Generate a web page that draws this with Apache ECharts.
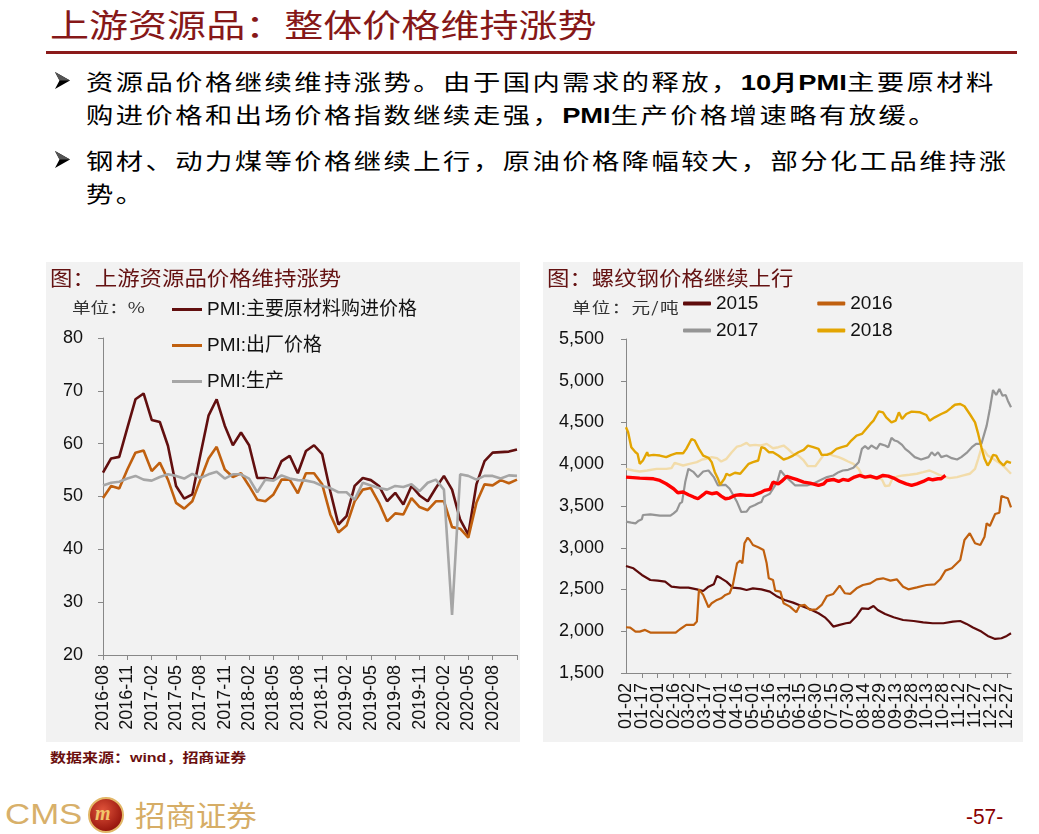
<!DOCTYPE html>
<html>
<head>
<meta charset="utf-8">
<script src="https://cdn.jsdelivr.net/npm/echarts/dist/echarts.min.js"></script>
<style>
  body { margin:0; background:#fff; }
  #page { position:relative; width:1039px; height:834px; overflow:hidden; background:#fff;
          font-family:"Noto Sans CJK SC","Liberation Sans",sans-serif; }
  .abs { position:absolute; white-space:nowrap; transform-origin:0 50%; }
  .bl { font-size:22px; letter-spacing:2px; color:#000; transform:scaleX(1.24); line-height:30px; }
  .bl b { font-family:"Liberation Sans",Arial,sans-serif; letter-spacing:0; }
  .arrow { position:absolute; width:15px; height:17px; }
  .ptitle { font-size:20px; color:#641212; transform:scaleX(1.12); line-height:24px; }
  .unit { font-size:15px; color:#333; transform:scaleX(1.24); line-height:18px; }
  .panel { position:absolute; top:262px; height:480px; background:#f2f2f2; }
</style>
</head>
<body>
<div id="page">
  <div class="abs" style="left:50px;top:4px;font-size:32px;line-height:38px;color:#861818;transform:scaleX(1.22);">上游资源品：整体价格维持涨势</div>
  <div style="position:absolute;left:46px;top:51px;width:971px;height:3px;background:#8b1a1a;"></div>

  <svg class="arrow" style="left:55px;top:72px;" viewBox="0 0 15 17"><polygon points="0,0 15,8.5 0,17 4.5,8.5" fill="#000"/><polygon points="0,0 15,8.5 4.5,8.5" fill="#555"/></svg>
  <div class="abs bl" style="left:86px;top:65px;">资源品价格继续维持涨势。由于国内需求的释放，<b>10月PMI</b>主要原材料</div>
  <div class="abs bl" style="left:86px;top:98px;">购进价格和出场价格指数继续走强，<b>PMI</b>生产价格增速略有放缓。</div>
  <svg class="arrow" style="left:55px;top:151px;" viewBox="0 0 15 17"><polygon points="0,0 15,8.5 0,17 4.5,8.5" fill="#000"/><polygon points="0,0 15,8.5 4.5,8.5" fill="#555"/></svg>
  <div class="abs bl" style="left:86px;top:144px;">钢材、动力煤等价格继续上行，原油价格降幅较大，部分化工品维持涨</div>
  <div class="abs bl" style="left:86px;top:177px;">势。</div>

  <div id="c1" class="panel" style="left:46px;width:474px;"></div>
  <div id="c2" class="panel" style="left:543px;width:480px;"></div>

  <div class="abs ptitle" style="left:50px;top:266px;">图：上游资源品价格维持涨势</div>
  <div class="abs unit" style="left:72px;top:298px;">单位：%</div>
  <div class="abs ptitle" style="left:547px;top:266px;">图：螺纹钢价格继续上行</div>
  <div class="abs unit" style="left:572px;top:298px;letter-spacing:1px;">单位：元/吨</div>

  <div class="abs" style="left:50px;top:749px;font-size:13px;line-height:16px;font-weight:bold;color:#6b0f0f;transform:scaleX(1.23);">数据来源：<span style="font-family:'Liberation Sans',Arial;">wind</span>，招商证券</div>

  <div class="abs" style="left:5px;top:798px;font-family:'Liberation Sans',Arial;font-size:29px;line-height:32px;color:#d8b06a;transform:scaleX(1.2);">CMS</div>
  <div style="position:absolute;left:88px;top:797px;width:32px;height:32px;border-radius:50%;background:radial-gradient(circle at 40% 35%,#e0533a,#9c1a10 70%,#6e0e08);border:2px solid #e2b767;"></div>
  <div class="abs" style="left:95px;top:801px;font-family:'Liberation Serif',serif;font-weight:bold;font-style:italic;font-size:20px;line-height:24px;color:#f1c56a;">m</div>
  <div class="abs" style="left:135px;top:798px;font-size:29px;line-height:32px;color:#d6ad66;transform:scaleX(1.05);">招商证券</div>
  <div class="abs" style="left:966px;top:804px;font-family:'Liberation Sans',Arial;font-size:22px;line-height:26px;color:#8b0000;transform:scaleX(0.95);">-57-</div>
</div>

<script>
// ---------- 左图：PMI 价格指数（月度，%） ----------
var pmiMonths = ['2016-08','2016-09','2016-10','2016-11','2016-12','2017-01','2017-02','2017-03','2017-04','2017-05',
  '2017-06','2017-07','2017-08','2017-09','2017-10','2017-11','2017-12','2018-01','2018-02','2018-03',
  '2018-04','2018-05','2018-06','2018-07','2018-08','2018-09','2018-10','2018-11','2018-12','2019-01',
  '2019-02','2019-03','2019-04','2019-05','2019-06','2019-07','2019-08','2019-09','2019-10','2019-11',
  '2019-12','2020-01','2020-02','2020-03','2020-04','2020-05','2020-06','2020-07','2020-08','2020-09',
  '2020-10','2020-11'];
var pmiPurchase = [54.5,57.2,57.5,63.0,68.4,69.5,64.5,64.1,59.6,52.0,
  49.6,50.4,57.9,65.3,68.4,63.4,59.7,62.1,59.7,53.5,
  53.5,53.2,56.7,57.7,54.4,58.6,59.7,58.0,51.0,44.7,
  46.3,52.0,53.5,53.1,52.0,49.1,50.7,48.5,52.0,50.2,
  49.1,51.6,53.9,51.3,45.6,42.8,52.3,56.7,58.3,58.4,
  58.5,58.9];
var pmiExFactory = [49.7,52.0,51.5,55.1,58.3,58.7,54.8,56.4,53.2,48.8,
  47.7,49.1,53.2,57.2,59.4,55.1,53.7,54.4,52.0,49.4,
  49.1,50.4,53.2,53.2,50.6,54.4,54.4,52.3,46.6,43.2,
  44.5,49.1,51.3,51.6,48.8,45.3,46.8,46.6,49.7,48.0,
  47.4,49.1,49.1,44.2,43.9,42.2,48.8,52.3,52.1,53.1,
  52.5,53.2];
var pmiOutput = [52.1,52.6,52.8,53.4,53.9,53.2,53.0,53.7,54.2,53.9,
  53.4,54.3,53.5,54.2,54.7,53.4,54.2,54.2,53.4,50.8,
  53.2,53.0,54.0,53.4,53.1,53.0,52.7,52.0,51.6,50.8,
  50.8,49.4,52.6,52.1,51.6,51.3,52.0,51.8,52.3,51.0,
  52.6,53.2,51.3,27.6,54.2,53.9,53.2,53.9,53.9,53.4,
  54.0,53.9];

// ---------- 右图：螺纹钢价格（元/吨），[距01-02天数, 价格] ----------
var rebarTicks = ['01-02','01-17','02-01','02-16','03-02','03-17','04-01','04-16','05-01','05-16','05-31','06-15',
  '06-30','07-15','07-30','08-14','08-29','09-13','09-28','10-13','10-28','11-12','11-27','12-12','12-27'];
var rebar2015 = [[0,2782],[7,2754],[15,2674],[23,2614],[30,2606],[37,2594],[43,2534],[51,2522],[59,2522],[67,2502],
  [73,2482],[78,2534],[83,2562],[86,2662],[90,2634],[95,2594],[101,2522],[108,2514],[114,2494],[120,2514],
  [128,2502],[136,2474],[142,2423],[150,2375],[158,2343],[166,2303],[174,2263],[182,2215],[188,2167],[192,2116],
  [196,2056],[202,2076],[208,2096],[212,2104],[218,2183],[223,2275],[229,2267],[234,2303],[238,2255],[245,2207],
  [253,2167],[262,2135],[272,2123],[281,2107],[290,2096],[300,2096],[309,2116],[316,2123],[322,2088],[328,2044],
  [336,1996],[342,1944],[349,1908],[355,1916],[360,1944],[364,1976]];
var rebar2016 = [[0,2048],[4,2044],[9,1996],[13,1996],[18,2016],[23,1984],[32,1984],[42,1984],[47,1984],[51,2024],
  [57,2076],[64,2076],[67,2116],[68,2135],[69,2502],[70,2514],[73,2435],[78,2287],[81,2335],[86,2375],
  [90,2395],[94,2435],[98,2455],[101,2554],[105,2814],[108,2846],[110,2814],[112,3053],[115,3121],[117,3093],
  [120,3033],[125,3005],[130,2973],[133,2814],[135,2634],[139,2614],[141,2487],[146,2475],[149,2335],[155,2295],
  [161,2227],[164,2303],[169,2315],[174,2255],[180,2263],[185,2315],[190,2423],[196,2447],[202,2546],[207,2455],
  [212,2447],[218,2514],[224,2554],[231,2574],[237,2622],[243,2634],[250,2606],[256,2622],[262,2534],[267,2502],
  [275,2526],[284,2554],[292,2562],[297,2622],[302,2726],[308,2754],[316,2854],[320,3093],[325,3173],[330,3053],
  [335,3033],[339,3133],[341,3293],[344,3261],[349,3404],[353,3420],[355,3620],[358,3604],[361,3592],[364,3484]];
var rebar2017 = [[0,3312],[5,3300],[9,3292],[12,3324],[15,3340],[16,3392],[23,3400],[32,3384],[42,3384],[45,3412],
  [48,3444],[51,3532],[53,3547],[56,3786],[59,3945],[64,3905],[68,3846],[73,3913],[78,3925],[83,3846],
  [87,3746],[94,3754],[98,3707],[105,3547],[109,3428],[114,3432],[117,3484],[122,3512],[125,3532],[128,3547],
  [130,3607],[133,3627],[136,3647],[139,3707],[143,3786],[146,3925],[150,3866],[155,3806],[160,3746],[164,3746],
  [171,3746],[177,3766],[183,3806],[190,3846],[196,3866],[201,3905],[205,3925],[210,3933],[215,3957],[220,4025],
  [223,4184],[226,4216],[229,4184],[232,4224],[237,4184],[240,4244],[245,4224],[248,4204],[251,4315],[254,4284],
  [257,4272],[261,4232],[264,4184],[268,4144],[273,4085],[279,4057],[286,4085],[289,4144],[292,4104],[295,4144],
  [298,4085],[303,4104],[308,4073],[313,4057],[317,4085],[322,4136],[327,4204],[331,4244],[336,4244],[341,4463],
  [344,4662],[347,4889],[350,4829],[353,4900],[356,4821],[359,4829],[361,4761],[364,4682]];
var rebar2018 = [[0,4443],[2,4383],[5,4204],[9,4144],[11,4124],[13,4005],[16,4045],[20,4144],[21,4104],[26,4112],
  [32,4104],[38,4085],[43,4112],[48,4132],[54,4132],[57,4184],[62,4303],[65,4284],[69,4184],[73,4104],
  [78,4077],[81,4025],[84,3905],[87,3826],[89,3754],[93,3826],[95,3886],[98,3866],[103,3898],[108,3886],
  [112,3945],[116,4005],[120,4025],[125,4045],[128,4204],[131,4192],[135,4144],[139,4144],[144,4104],[149,4057],
  [153,4073],[158,4104],[163,4144],[168,4172],[172,4224],[177,4204],[182,4184],[185,4112],[190,4112],[194,4132],
  [199,4184],[204,4204],[209,4224],[213,4284],[218,4343],[223,4363],[227,4423],[231,4483],[234,4522],[237,4590],
  [239,4634],[243,4622],[246,4562],[251,4502],[255,4522],[258,4622],[261,4542],[265,4602],[270,4630],[278,4622],
  [284,4590],[287,4522],[292,4562],[298,4602],[303,4630],[308,4682],[311,4713],[316,4721],[320,4694],[325,4602],
  [330,4502],[333,4363],[336,4204],[339,4065],[342,3985],[344,4025],[347,4112],[350,4104],[353,4033],[357,3985],
  [360,4033],[364,4017]];
var rebar2019 = [[0,3945],[7,3925],[13,3913],[20,3925],[29,3945],[38,3945],[43,3953],[46,4017],[49,4005],[54,3985],
  [60,4005],[67,4025],[72,4057],[76,4065],[81,4085],[86,4073],[90,4033],[95,4065],[100,4144],[105,4212],
  [109,4224],[114,4256],[117,4224],[122,4232],[127,4224],[133,4244],[139,4192],[144,4204],[149,4224],[153,4184],
  [158,4124],[163,4104],[168,4045],[172,3977],[179,3977],[183,4045],[187,4112],[191,4124],[196,4104],[201,4085],
  [205,4065],[210,4033],[215,4005],[220,3945],[224,3846],[231,3834],[237,3834],[242,3818],[245,3738],[249,3746],
  [252,3834],[257,3854],[262,3866],[268,3874],[275,3886],[281,3905],[287,3925],[292,3898],[297,3866],[302,3846],
  [306,3834],[313,3846],[319,3866],[325,3886],[330,3945],[333,4065],[336,4192],[339,4164],[342,4104],[347,4065],
  [352,4025],[357,3977],[361,3925],[364,3886]];
var rebar2020 = [[0,3846],[13,3834],[26,3826],[32,3806],[38,3766],[45,3707],[49,3659],[54,3667],[59,3635],[64,3607],
  [68,3587],[73,3635],[76,3667],[81,3647],[86,3659],[90,3619],[94,3587],[98,3595],[103,3627],[108,3635],
  [114,3627],[120,3627],[127,3659],[131,3687],[136,3699],[139,3786],[144,3766],[147,3794],[152,3854],[157,3834],
  [161,3818],[168,3786],[174,3774],[182,3746],[187,3766],[190,3806],[196,3818],[201,3794],[205,3818],[210,3806],
  [216,3846],[221,3866],[226,3846],[231,3858],[237,3834],[243,3866],[248,3858],[253,3834],[259,3794],[265,3766],
  [270,3746],[275,3766],[281,3794],[286,3826],[290,3814],[295,3826],[298,3826],[302,3866]];

var numFont = '"Liberation Sans", Arial, sans-serif';
var cjkFont = '"Liberation Sans", "Noto Sans CJK SC", sans-serif';
var axisGray = '#888888';

//左图
var chart1 = echarts.init(document.getElementById('c1'));
function pmiLine(name, data, color) {
  return { name: name, type: 'line', data: data, symbol: 'none', smooth: false,
    lineStyle: { color: color, width: 2.6 }, itemStyle: { color: color } };
}
chart1.setOption({
  animation: false,
  backgroundColor: '#f2f2f2',
  grid: { left: 57, right: 3, top: 76, bottom: 87, containLabel: false, outerBoundsMode: 'none' },
  legend: {
    orient: 'vertical', left: 121, top: 33, itemGap: 17,
    icon: 'rect', itemWidth: 30, itemHeight: 3,
    textStyle: { fontSize: 19, color: '#111', fontFamily: cjkFont },
    data: ['PMI:主要原材料购进价格', 'PMI:出厂价格', 'PMI:生产']
  },
  xAxis: {
    type: 'category', data: pmiMonths, boundaryGap: false,
    axisLine: { lineStyle: { color: axisGray, width: 1 } },
    axisTick: { show: true, interval: 2, length: 5, lineStyle: { color: axisGray } },
    axisLabel: { interval: 2, rotate: 90, margin: 10, fontSize: 18, color: '#111', fontFamily: numFont,
      formatter: function (v, i) { return i === pmiMonths.length - 1 ? '' : v; } },
    splitLine: { show: false }
  },
  yAxis: {
    type: 'value', min: 20, max: 80, interval: 10,
    axisLine: { show: true, lineStyle: { color: axisGray, width: 1 } },
    axisTick: { show: true, inside: false, length: 5, lineStyle: { color: axisGray } },
    axisLabel: { margin: 20, fontSize: 18, color: '#111', fontFamily: numFont },
    splitLine: { show: false }
  },
  series: [
    pmiLine('PMI:主要原材料购进价格', pmiPurchase, '#620f0f'),
    pmiLine('PMI:出厂价格', pmiExFactory, '#c0600f'),
    pmiLine('PMI:生产', pmiOutput, '#a6a6a6')
  ]
});

//右图
var chart2 = echarts.init(document.getElementById('c2'));
function rebarLine(name, data, color, width) {
  return { name: name, type: 'line', data: data, symbol: 'none', smooth: false, xAxisIndex: 0,
    lineStyle: { color: color, width: width }, itemStyle: { color: color } };
}
function dayLabel(v) {
  var k = Math.round(v / 15);
  return (Math.abs(v - k * 15) < 0.01 && rebarTicks[k]) ? rebarTicks[k] : '';
}
var legendBase = { left: 135, itemGap: 59, icon: 'roundRect', itemWidth: 28, itemHeight: 4,
  textStyle: { fontSize: 19, color: '#111', fontFamily: numFont } };
var dayLabelStyle = { rotate: 90, margin: 10, fontSize: 18, color: '#111', fontFamily: numFont, hideOverlap: false };
chart2.setOption({
  animation: false,
  backgroundColor: '#f2f2f2',
  grid: { left: 83, right: 12, top: 77, bottom: 69, containLabel: false, outerBoundsMode: 'none' },
  legend: [
    Object.assign({}, legendBase, { top: 27, data: ['2015', '2016'] }),
    Object.assign({}, legendBase, { top: 54, data: ['2017', '2018'] })
  ],
  xAxis: [{
    type: 'value', min: 0, max: 364, interval: 15, position: 'bottom',
    axisLine: { show: true, onZero: false, lineStyle: { color: axisGray, width: 1 } },
    axisTick: { show: true, length: 5, lineStyle: { color: axisGray } },
    axisLabel: Object.assign({}, dayLabelStyle, { showMinLabel: false, showMaxLabel: false, formatter: dayLabel }),
    splitLine: { show: false }
  }, {
    // 仅用于显示首个日期标签（避免与相邻标签的重叠隐藏）
    type: 'value', min: 0, max: 364, interval: 15, position: 'bottom', offset: 0,
    axisLine: { show: false }, axisTick: { show: false }, splitLine: { show: false },
    axisLabel: Object.assign({}, dayLabelStyle, { showMinLabel: true, showMaxLabel: false,
      formatter: function (v) { return v === 0 ? rebarTicks[0] : ''; } })
  }],
  yAxis: {
    type: 'value', min: 1500, max: 5500, interval: 500,
    axisLine: { show: true, lineStyle: { color: axisGray, width: 1 } },
    axisTick: { show: true, length: 5, lineStyle: { color: axisGray } },
    axisLabel: { margin: 22, fontSize: 18, color: '#111', fontFamily: numFont,
      formatter: function (v) { return v.toLocaleString('en-US'); } },
    splitLine: { show: false }
  },
  series: [
    rebarLine('2019', rebar2019, '#f2dcaa', 2.4),
    rebarLine('2015', rebar2015, '#5e0b0b', 2.2),
    rebarLine('2016', rebar2016, '#c0600f', 2.2),
    rebarLine('2017', rebar2017, '#959595', 2.2),
    rebarLine('2018', rebar2018, '#e3a502', 2.4),
    rebarLine('2020', rebar2020, '#ff0000', 3.4)
  ]
});
</script>
</body>
</html>
